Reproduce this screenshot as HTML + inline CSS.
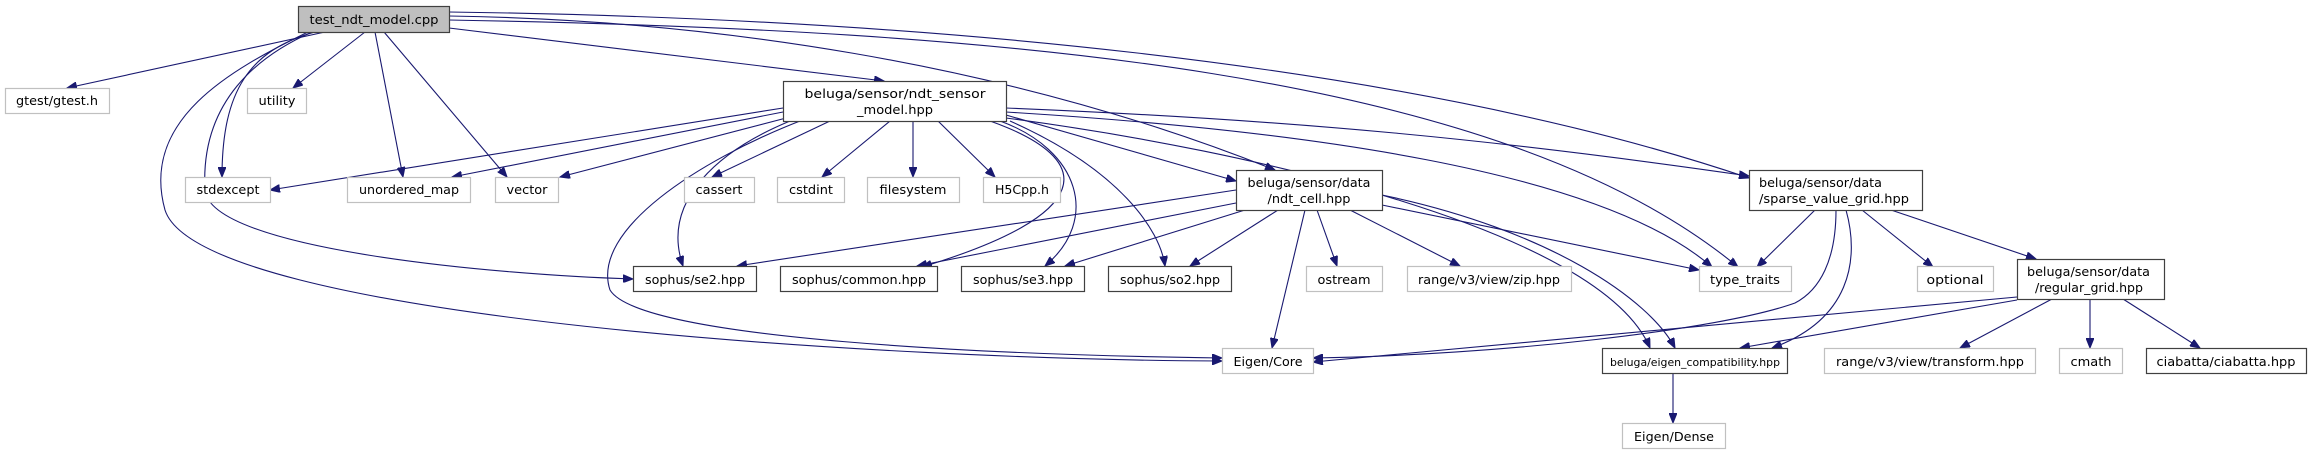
<!DOCTYPE html>
<html><head><meta charset="utf-8"><style>
html,body{margin:0;padding:0;background:#fff;}
svg{display:block;}
text{font-family:"DejaVu Sans","Liberation Sans",sans-serif;font-size:12px;fill:#000;}
</style></head><body>
<svg width="2309" height="455" viewBox="0 0 2309 455" xmlns="http://www.w3.org/2000/svg">
<defs>
<marker id="a" markerUnits="userSpaceOnUse" markerWidth="11" markerHeight="8" refX="10" refY="4" orient="auto"><path d="M0,0 L10,4 L0,8 z" fill="#191970" stroke="#191970"/></marker>
</defs>
<g fill="none" stroke="#191970" stroke-width="1.1" marker-end="url(#a)">
<path d="M325,32 L67,88"/>
<path d="M365,32 L293,88"/>
<path d="M315,32 C250,50 222,90 222,177"/>
<path d="M312,32 C260,55 200,100 205,190 C210,250 500,275 633,279"/>
<path d="M308,32 C230,70 140,120 165,210 C200,320 900,360 1222,361"/>
<path d="M375,32 L403,177"/>
<path d="M384,32 L507,177"/>
<path d="M449,28 L884,81"/>
<path d="M449,16 C700,20 1000,60 1275,170"/>
<path d="M449,12 C900,18 1400,60 1749,178"/>
<path d="M449,20 C1000,30 1500,70 1738,267"/>
<path d="M783,108 L270,190"/>
<path d="M783,112 L452,177"/>
<path d="M790,117 L560,177"/>
<path d="M830,121 L712,177"/>
<path d="M890,121 L822,177"/>
<path d="M913,121 L913,177"/>
<path d="M938,121 L995,177"/>
<path d="M1006,115 L1236,181"/>
<path d="M1006,108 C1300,120 1500,140 1749,176"/>
<path d="M1006,112 C1300,130 1600,170 1712,267"/>
<path d="M1006,118 C1250,150 1600,230 1650,348"/>
<path d="M800,121 C700,160 590,230 610,290 C640,340 1000,355 1222,358"/>
<path d="M790,121 C720,150 660,200 683,266"/>
<path d="M990,121 C1100,160 1095,215 922,267"/>
<path d="M1000,121 C1080,150 1100,220 1045,266"/>
<path d="M1010,121 C1120,170 1160,230 1165,266"/>
<path d="M1236,190 L737,266"/>
<path d="M1236,203 L917,266"/>
<path d="M1245,210 L1065,266"/>
<path d="M1278,210 L1190,266"/>
<path d="M1305,210 L1272,348"/>
<path d="M1317,210 L1337,266"/>
<path d="M1350,210 L1460,266"/>
<path d="M1382,205 L1699,270"/>
<path d="M1382,195 C1550,230 1650,300 1675,348"/>
<path d="M1815,210 L1757,267"/>
<path d="M1862,210 L1933,267"/>
<path d="M1891,210 L2036,259"/>
<path d="M1836,210 C1836,260 1820,290 1795,303 C1720,330 1500,355 1313,358"/>
<path d="M1846,210 C1860,260 1850,320 1772,348"/>
<path d="M2017,297 L1313,362"/>
<path d="M2017,300 L1740,348"/>
<path d="M2052,299 L1960,348"/>
<path d="M2090,299 L2090,348"/>
<path d="M2123,299 L2200,348"/>
<path d="M1673,374 L1673,423"/>
</g>
<g stroke-width="1.2">
<rect x="298.5" y="6.5" width="151" height="26" fill="#bfbfbf" stroke="#404040"/>
<g fill="#fff" stroke="#c0c0c0">
<rect x="5.5" y="88.5" width="104" height="25"/>
<rect x="247.5" y="88.5" width="59" height="25"/>
<rect x="185.5" y="177.5" width="85" height="25"/>
<rect x="347.5" y="177.5" width="123" height="25"/>
<rect x="495.5" y="177.5" width="63" height="25"/>
<rect x="684.5" y="177.5" width="70" height="25"/>
<rect x="777.5" y="177.5" width="67" height="25"/>
<rect x="867.5" y="177.5" width="92" height="25"/>
<rect x="983.5" y="177.5" width="77" height="25"/>
<rect x="1306.5" y="266.5" width="76" height="25"/>
<rect x="1407.5" y="266.5" width="164" height="25"/>
<rect x="1699.5" y="266.5" width="92" height="25"/>
<rect x="1917.5" y="266.5" width="76" height="25"/>
<rect x="1222.5" y="348.5" width="91" height="25"/>
<rect x="1824.5" y="348.5" width="211" height="25"/>
<rect x="2059.5" y="348.5" width="63" height="25"/>
<rect x="1622.5" y="423.5" width="103" height="25"/>
</g>
<g fill="#fff" stroke="#404040">
<rect x="783.5" y="81.5" width="223" height="40"/>
<rect x="1236.5" y="170.5" width="146" height="40"/>
<rect x="1749.5" y="170.5" width="173" height="40"/>
<rect x="633.5" y="266.5" width="123" height="25"/>
<rect x="780.5" y="266.5" width="157" height="25"/>
<rect x="961.5" y="266.5" width="123" height="25"/>
<rect x="1108.5" y="266.5" width="123" height="25"/>
<rect x="2017.5" y="259.5" width="147" height="40"/>
<rect x="1602.5" y="348.5" width="185" height="25"/>
<rect x="2146.5" y="348.5" width="160" height="25"/>
</g>
</g>
<g text-anchor="middle">
<text x="374" y="24" textLength="129" lengthAdjust="spacingAndGlyphs">test_ndt_model.cpp</text>
<text x="57" y="105" textLength="82" lengthAdjust="spacingAndGlyphs">gtest/gtest.h</text>
<text x="277" y="105" textLength="37" lengthAdjust="spacingAndGlyphs">utility</text>
<text x="228" y="194" textLength="63" lengthAdjust="spacingAndGlyphs">stdexcept</text>
<text x="409" y="194" textLength="100" lengthAdjust="spacingAndGlyphs">unordered_map</text>
<text x="527" y="194" textLength="41" lengthAdjust="spacingAndGlyphs">vector</text>
<text x="719" y="194" textLength="47" lengthAdjust="spacingAndGlyphs">cassert</text>
<text x="811" y="194" textLength="44" lengthAdjust="spacingAndGlyphs">cstdint</text>
<text x="913" y="194" textLength="67" lengthAdjust="spacingAndGlyphs">filesystem</text>
<text x="1022" y="194" textLength="54" lengthAdjust="spacingAndGlyphs">H5Cpp.h</text>
<text x="895" y="98" textLength="181" lengthAdjust="spacingAndGlyphs">beluga/sensor/ndt_sensor</text>
<text x="895" y="114" textLength="76" lengthAdjust="spacingAndGlyphs">_model.hpp</text>
<text x="1309" y="187" textLength="123" lengthAdjust="spacingAndGlyphs">beluga/sensor/data</text>
<text x="1309" y="203" textLength="83" lengthAdjust="spacingAndGlyphs">/ndt_cell.hpp</text>
<text x="695" y="284" textLength="100" lengthAdjust="spacingAndGlyphs">sophus/se2.hpp</text>
<text x="859" y="284" textLength="134" lengthAdjust="spacingAndGlyphs">sophus/common.hpp</text>
<text x="1023" y="284" textLength="100" lengthAdjust="spacingAndGlyphs">sophus/se3.hpp</text>
<text x="1170" y="284" textLength="100" lengthAdjust="spacingAndGlyphs">sophus/so2.hpp</text>
<text x="1344" y="284" textLength="53" lengthAdjust="spacingAndGlyphs">ostream</text>
<text x="1489" y="284" textLength="142" lengthAdjust="spacingAndGlyphs">range/v3/view/zip.hpp</text>
<text x="1745" y="284" textLength="70" lengthAdjust="spacingAndGlyphs">type_traits</text>
<text x="1955" y="284" textLength="57" lengthAdjust="spacingAndGlyphs">optional</text>
<text x="1268" y="366" textLength="69" lengthAdjust="spacingAndGlyphs">Eigen/Core</text>
<text x="1695" y="366" style="font-size:11px" textLength="170" lengthAdjust="spacingAndGlyphs">beluga/eigen_compatibility.hpp</text>
<text x="1930" y="366" textLength="188" lengthAdjust="spacingAndGlyphs">range/v3/view/transform.hpp</text>
<text x="2091" y="366" textLength="41" lengthAdjust="spacingAndGlyphs">cmath</text>
<text x="2226" y="366" textLength="139" lengthAdjust="spacingAndGlyphs">ciabatta/ciabatta.hpp</text>
<text x="1674" y="441" textLength="80" lengthAdjust="spacingAndGlyphs">Eigen/Dense</text>
</g>
<g text-anchor="start">
<text x="1759" y="187" textLength="123" lengthAdjust="spacingAndGlyphs">beluga/sensor/data</text>
<text x="1759" y="203" textLength="150" lengthAdjust="spacingAndGlyphs">/sparse_value_grid.hpp</text>
<text x="2027" y="276" textLength="123" lengthAdjust="spacingAndGlyphs">beluga/sensor/data</text>
<text x="2035" y="292" textLength="108" lengthAdjust="spacingAndGlyphs">/regular_grid.hpp</text>
</g>
</svg>
</body></html>
